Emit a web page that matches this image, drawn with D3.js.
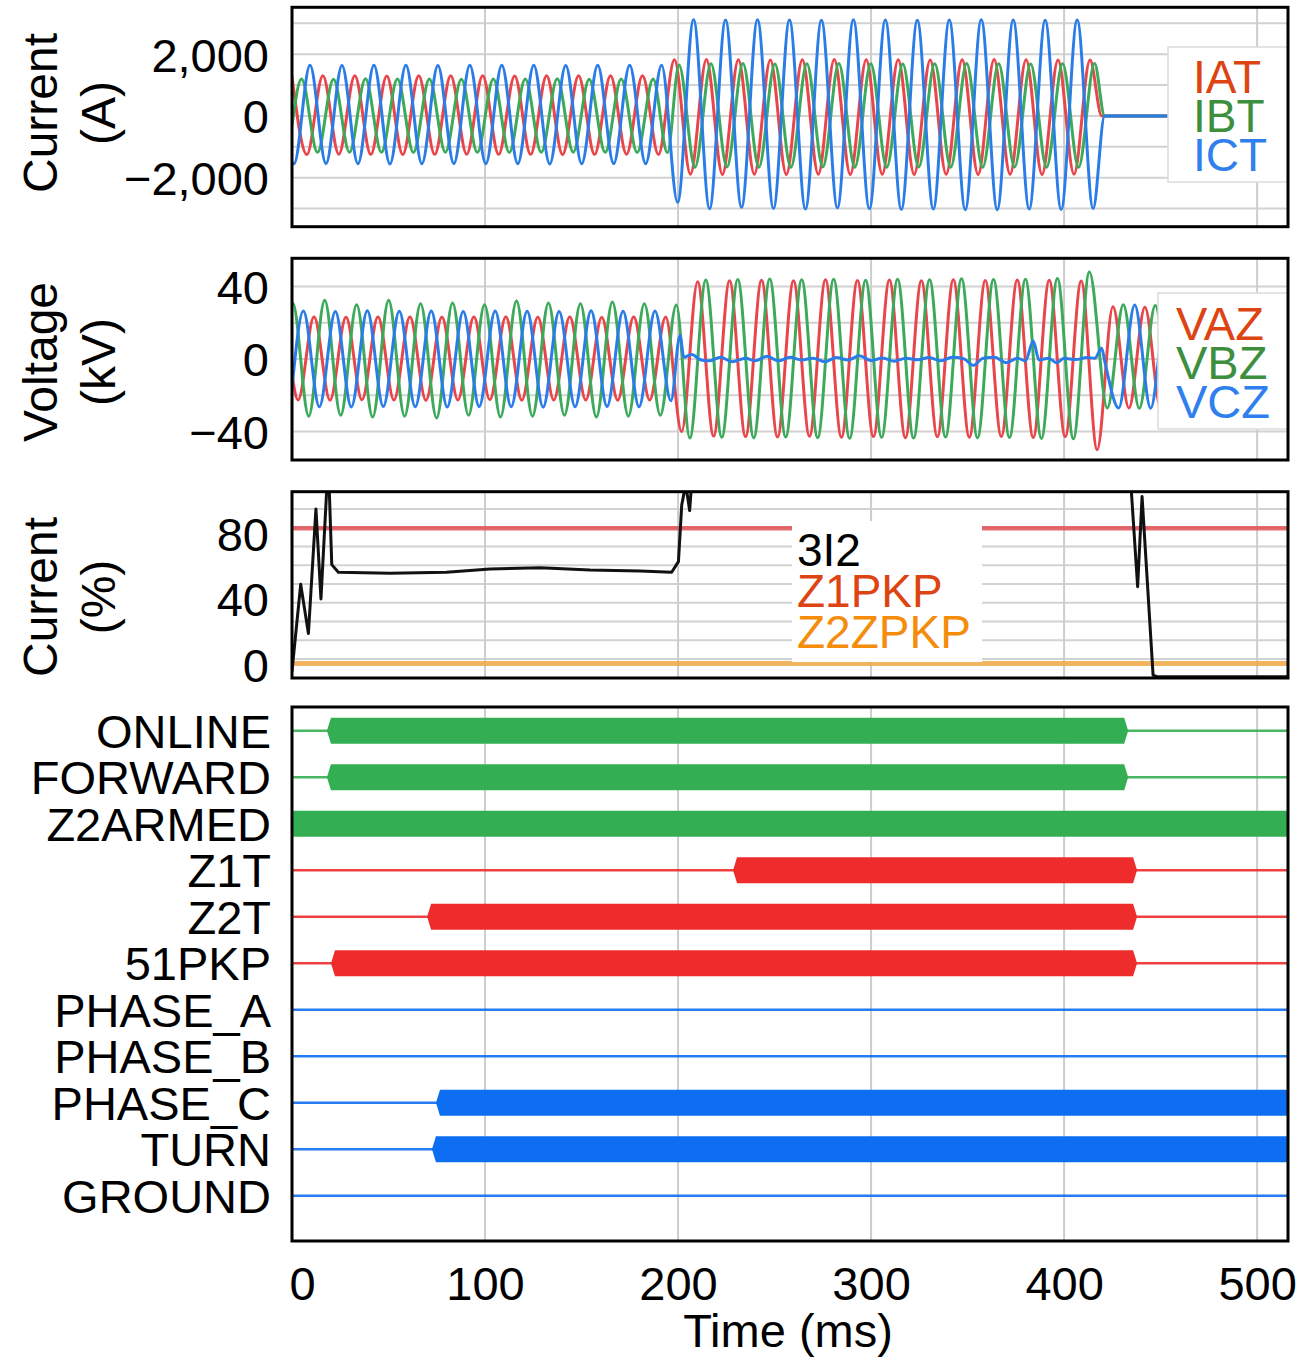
<!DOCTYPE html>
<html>
<head>
<meta charset="utf-8">
<script src="https://cdn.jsdelivr.net/npm/d3@7"></script>
<style>
  body { margin: 0; background: #ffffff; }
  svg { display: block; }
  text { font-family: "Liberation Sans", Arial, Helvetica, sans-serif; fill: #000; }
</style>
</head>
<body>
<svg id="chart" width="1309" height="1359"></svg>
<script>
// ---------------------------------------------------------------
// Event record: phase currents, phase voltages, negative-sequence
// current and relay word bits against time (ms).
// Waveforms are stored as their successive peaks/troughs; one
// half-cycle of the recorded signal separates consecutive entries.
// ---------------------------------------------------------------
const HALF_CYCLE = 8.28;           // ms between a peak and the next trough
const timeTicks = [0, 100, 200, 300, 400, 500];
const timeGrid = [100, 200, 300, 400, 500];

// ---- Currents (A) ----
const currentTicks = [-2000, 0, 2000];
const currentGrid = [-3000, -2000, -1000, 0, 1000, 2000, 3000];

const iatPre = [-1250, 1300, -1245, 1305, -1250, 1295, -1255, 1300, -1250, 1305, -1245, 1300,
                -1250, 1295, -1250, 1300, -1255, 1305, -1250, 1300, -1245, 1300, -1250];
const iatFault = [1820, -1890, 1825, -1895, 1820, -1890, 1815, -1900, 1820, -1890, 1825, -1895,
                  1820, -1890, 1820, -1895, 1815, -1890, 1820, -1900, 1825, -1890, 1820, -1895,
                  1815, -1890, 1810];
const ibtPre = [1200, -1180, 1190, -1175, 1205, -1180, 1195, -1185, 1200, -1175, 1190, -1180,
                1200, -1185, 1195, -1180, 1205, -1175, 1190, -1180, 1200, -1185, 1195];
const ibtFault = [1650, -1660, 1690, -1655, 1695, -1660, 1685, -1665, 1690, -1650, 1695, -1660,
                  1690, -1665, 1685, -1655, 1690, -1660, 1695, -1665, 1690, -1655, 1685, -1660,
                  1690, -1665, 1700];
const ictPre = [-1550, 1640, -1545, 1635, -1550, 1645, -1555, 1640, -1550, 1635, -1545, 1640,
                -1550, 1645, -1550, 1640, -1555, 1635, -1550, 1640, -1545, 1645, -1550, 1640];
const ictFault = [-2800, 3120, -3010, 3110, -2960, 3120, -3000, 3110, -3020, 3100, -2980, 3120,
                  -3010, 3110, -3030, 3100, -3020, 3110, -3040, 3120, -3040, 3110, -3020, 3100,
                  -3030, 3110, -3000];

const IAT = { points: [[0, 1270], [419.5, 0], [516, 0]],
              segments: [{ t0: 7.7, v: iatPre.concat(iatFault) }] };
const IBT = { points: [[0, -300], [194.5, -1190], [421, 0], [516, 0]],
              segments: [{ t0: 4.94, v: ibtPre }, { t0: 200.5, v: ibtFault }] };
const ICT = { points: [[0, -1520], [421, 0], [516, 0]],
              segments: [{ t0: 1.05, v: ictPre.concat(ictFault) }] };

// ---- Voltages (kV) ----
const voltageTicks = [-40, 0, 40];
const voltageGrid = [-40, -20, 0, 20, 40];

const vazPre = [-22.6, 23.3, -22.7, 23.2, -22.5, 23.4, -22.6, 23.3, -22.8, 23.2, -22.6, 23.3,
                -22.5, 23.4, -22.7, 23.2, -22.6, 23.3, -22.6, 23.1, -22.7, 23.3, -22.6, 23.2];
const vazFault = [-40, 42.6, -42.5, 43.2, -42.8, 43.5, -43, 43.2, -42.6, 43.8, -43.2, 43.4,
                  -42.8, 43.6, -43.4, 43.2, -42.9, 43.8, -43.1, 43.3, -42.7, 43.6, -43.3, 43.5,
                  -42.8, 43.1, -50];
const vazPost = [28.9, -27, 28.6, -27.3, 28.8, -27.1, 28.5, -27.2, 28.7, -27, 28.6, -27.1];

const vbzPre = [31, -31.5, 32.5, -31, 30, -32, 32.5, -31.5, 30.5, -32.5, 31, -31, 30, -32,
                32, -31.5, 31, -31, 30.5, -32, 31.5, -31.5, 30.5, -31, 29.8];
const vbzFault = [-43.6, 43.6, -43.2, 43.9, -43.5, 44.2, -43, 43.8, -43.4, 44, -43.7, 43.5,
                  -43.2, 44.1, -43.6, 43.8, -43, 44.3, -43.5, 43.9, -43.3, 44, -43.8, 44.5,
                  -44, 48];
const vbzPost = [-27, 30, -27.2, 29.6, -27.1, 29.8, -27, 29.5, -27.2, 29.7, -27.1, 29.6];

const vczPre = [26.5, -26.3, 26.2, -26.4, 26.6, -26.2, 26.4, -26.3, 26.5, -26.4, 26.3, -26.2,
                26.5, -26.3, 26.4, -26.5, 26.2, -26.3, 26.6, -26.2, 26.4, -26.3, 26.5, -23];
const vczFaultRipple = [[201, 13], [203, 1], [207, 2.5], [212, -0.5], [216, -1], [222, 1],
                        [228, -1.5], [235, 0.5], [240, -1], [246, 1.5], [252, -1], [258, 1],
                        [264, -0.5], [270, 0.5], [276, -1.5], [282, 0.8], [288, -0.5], [294, 1.8],
                        [300, -0.8], [306, 0.6], [312, -1.2], [318, 0.5], [324, -0.4], [330, 0.8],
                        [336, -1], [342, 1], [348, 0.2], [353, -3.5], [358, 0.5], [364, 1],
                        [370, -2], [376, 0.5], [380, -1], [384, 10], [387, -0.5], [392, 0.5],
                        [396, -2], [400, 0.4], [406, -0.3], [412, 0.8], [416, 0.5], [419.5, 6],
                        [421, -1]];
const vczPost = [-27, 29.8, -27.1, 29.5, -27, 29.7, -27.2, 29.6, -27, 29.8, -27.1];

const VAZ = { points: [[0, -8.5]],
              segments: [{ t0: 3.14, v: vazPre }, { t0: 201.86, v: vazFault }, { t0: 425.3, v: vazPost }] };
const VBZ = { points: [[0, 30]],
              segments: [{ t0: 0.38, v: vbzPre }, { t0: 206.1, v: vbzFault }, { t0: 422.4, v: vbzPost }] };
const VCZ = { points: [[0, -16]].concat(vczFaultRipple),
              segments: [{ t0: 5.9, v: vczPre }, { t0: 428.3, v: vczPost }] };

// ---- Negative-sequence current (%) and pickup levels ----
const percentTicks = [0, 40, 80];
const percentGrid = [3.4, 14.9, 26.3, 37.8, 49.2, 60.6, 72.1, 83.5, 95.0];
const i2Trace = [[0, -4], [4.5, 49], [8.5, 19], [12.4, 95], [15, 40], [18.8, 125], [20.6, 61],
                 [24, 56.3], [50.8, 55.7], [80, 56.4], [102.6, 58.3], [128.5, 59.1], [154.4, 57.7],
                 [180.3, 57.1], [196.7, 56.3], [200.2, 62.8], [201.9, 97.4], [204, 110], [206, 94],
                 [207.5, 118], [430, 118], [434.5, 112], [438.1, 47.5], [440.4, 102.5],
                 [446.1, -6.4], [448, -7.4], [516, -7.4]];
const z1pkpTrace = [[0, 83.2], [516, 83.2]];
const z2zpkpTrace = [[0, 0.7], [516, 0.7]];

// ---- Relay word bits: asserted intervals (ms) ----
const bitNames = ["ONLINE", "FORWARD", "Z2ARMED", "Z1T", "Z2T", "51PKP",
                  "PHASE_A", "PHASE_B", "PHASE_C", "TURN", "GROUND"];
const bitGroups = ["green", "green", "green", "red", "red", "red",
                   "blue", "blue", "blue", "blue", "blue"];
const bitOn = [[[18.1, 433.2]], [[18.1, 433.2]], [[0, 516]], [[228.5, 437.8]], [[70, 437.8]],
               [[20.2, 437.8]], [], [], [[74.6, 516]], [[72.5, 516]], []];

// ---------------------------------------------------------------
const FONT_SIZE = 47;
const svg = d3.select("#chart");
const x = d3.scaleLinear().domain([0, 516]).range([292, 1288]);
const X0 = x.range()[0], X1 = x.range()[1];

const waveColors = { red: "#e8464b", green: "#3caa5a", blue: "#2a7de8" };
const textColors = { red: "#dd4412", green: "#3d8f3e", blue: "#2f7fee", orange: "#f48c0c" };
const bitColors = { green: "#34ae52", red: "#ee2c2c", blue: "#0d6ef2" };

function expand(ch) {
  const pts = ch.points.slice();
  ch.segments.forEach(s => s.v.forEach((v, i) => pts.push([s.t0 + i * HALF_CYCLE, v])));
  return pts.sort((a, b) => a[0] - b[0]);
}

let clipCount = 0;
function addClip(top, bottom) {
  const id = "clip" + (clipCount++);
  svg.append("clipPath").attr("id", id)
    .append("rect").attr("x", X0).attr("y", top).attr("width", X1 - X0).attr("height", bottom - top);
  return "url(#" + id + ")";
}

function verticalGrid(g, top, bottom) {
  g.selectAll("line.vg").data(timeGrid).join("line")
    .attr("class", "vg")
    .attr("x1", d => x(d)).attr("x2", d => x(d))
    .attr("y1", top).attr("y2", bottom)
    .attr("stroke", "#cdcdcd").attr("stroke-width", 2);
}

function horizontalGrid(g, y, values) {
  g.selectAll("line.hg").data(values).join("line")
    .attr("class", "hg")
    .attr("x1", X0).attr("x2", X1)
    .attr("y1", d => y(d)).attr("y2", d => y(d))
    .attr("stroke", "#d2d2d2").attr("stroke-width", 2);
}

function border(top, bottom) {
  svg.append("rect")
    .attr("x", X0).attr("y", top).attr("width", X1 - X0).attr("height", bottom - top)
    .attr("fill", "none").attr("stroke", "#000").attr("stroke-width", 3);
}

function yAxis(y, ticks, fmt) {
  const ax = d3.axisLeft(y).tickValues(ticks).tickSize(0).tickPadding(23).tickFormat(fmt);
  const g = svg.append("g").attr("transform", `translate(${X0},0)`).call(ax);
  g.select(".domain").remove();
  g.selectAll("text").attr("font-size", FONT_SIZE).attr("dy", "0.36em")
    .style("font-family", '"Liberation Sans", Arial, sans-serif').attr("fill", "#000");
}

function axisTitle(lines, cy) {
  const xs = [57, 115];
  lines.forEach((t, i) => {
    svg.append("text")
      .attr("transform", `translate(${xs[i]},${cy}) rotate(-90)`)
      .attr("text-anchor", "middle").attr("font-size", 48).text(t);
  });
}

// Stacked legend: one text block, one coloured line per series
function legend(box, items) {
  const g = svg.append("g");
  g.append("rect").attr("x", box.x).attr("y", box.y).attr("width", box.w).attr("height", box.h)
    .attr("fill", "#fff").attr("stroke", box.stroke || "none").attr("stroke-width", 1.5);
  const t = g.append("text").attr("font-size", box.fs);
  items.forEach((it, i) => {
    t.append("tspan").attr("x", box.tx).attr("y", box.by + i * box.step)
      .style("fill", it.color).text(it.label);
  });
}

const minusFmt = f => d => f(d).replace("-", "\u2212");

function analogPanel(cfg) {
  const y = d3.scaleLinear().domain(cfg.domain).range([cfg.bottom, cfg.top]);
  const g = svg.append("g");
  horizontalGrid(g, y, cfg.grid);
  verticalGrid(g, cfg.top, cfg.bottom);
  const clip = addClip(cfg.top, cfg.bottom);
  const traces = g.append("g").attr("clip-path", clip);
  cfg.series.forEach(s => {
    const line = d3.line().x(d => x(d[0])).y(d => y(d[1])).curve(s.curve || d3.curveMonotoneX);
    traces.append("path").datum(s.data)
      .attr("d", line).attr("fill", "none")
      .attr("stroke", s.color).attr("stroke-width", s.width || 3)
      .attr("stroke-opacity", s.opacity || 1)
      .attr("stroke-linejoin", "round").attr("stroke-linecap", "round");
  });
  if (cfg.legend) legend(cfg.legend.box, cfg.legend.items);
  border(cfg.top, cfg.bottom);
  yAxis(y, cfg.ticks, cfg.fmt);
  axisTitle(cfg.title, cfg.titleY);
  return y;
}

// ---- Panel 1: phase currents ----
analogPanel({
  top: 7.3, bottom: 226.7, domain: [-3590, 3520], grid: currentGrid, ticks: currentTicks,
  fmt: minusFmt(d3.format(",")), title: ["Current", "(A)"], titleY: 113,
  series: [
    { data: expand(IAT), color: waveColors.red },
    { data: expand(IBT), color: waveColors.green },
    { data: expand(ICT), color: waveColors.blue }
  ],
  legend: {
    box: { x: 1168, y: 47, w: 120, h: 135, tx: 1193, by: 92.7, step: 39, fs: 46, stroke: "#dcdcdc" },
    items: [{ label: "IAT", color: textColors.red }, { label: "IBT", color: textColors.green },
            { label: "ICT", color: textColors.blue }]
  }
});

// ---- Panel 2: phase voltages ----
analogPanel({
  top: 258.3, bottom: 460, domain: [-55.7, 55.6], grid: voltageGrid, ticks: voltageTicks,
  fmt: minusFmt(d3.format("d")), title: ["Voltage", "(kV)"], titleY: 362,
  series: [
    { data: expand(VAZ), color: waveColors.red },
    { data: expand(VBZ), color: waveColors.green },
    { data: expand(VCZ), color: waveColors.blue }
  ],
  legend: {
    box: { x: 1158, y: 293, w: 130, h: 136, tx: 1176, by: 340, step: 39, fs: 47, stroke: "#dcdcdc" },
    items: [{ label: "VAZ", color: textColors.red }, { label: "VBZ", color: textColors.green },
            { label: "VCZ", color: textColors.blue }]
  }
});

// ---- Panel 3: negative-sequence current ----
analogPanel({
  top: 491.7, bottom: 678, domain: [-8.2, 105.5], grid: percentGrid, ticks: percentTicks,
  fmt: d3.format("d"), title: ["Current", "(%)"], titleY: 597,
  series: [
    { data: z1pkpTrace, color: "#e0474c", width: 4.5, opacity: 0.8, curve: d3.curveLinear },
    { data: z2zpkpTrace, color: "#efa844", width: 5, opacity: 0.85, curve: d3.curveLinear },
    { data: i2Trace, color: "#111111", width: 3, curve: d3.curveLinear }
  ],
  legend: {
    box: { x: 792, y: 521, w: 190, h: 141, tx: 797, by: 566, step: 41, fs: 46 },
    items: [{ label: "3I2", color: "#000" }, { label: "Z1PKP", color: textColors.red },
            { label: "Z2ZPKP", color: textColors.orange }]
  }
});

// ---- Panel 4: relay word bits ----
const dTop = 707, dBottom = 1241;
const row = d3.scalePoint().domain(bitNames).range([730.7, 1195.7]);
const BAR_H = 26, NOTCH = 4;
const dg = svg.append("g");
verticalGrid(dg, dTop, dBottom);
const dclip = addClip(dTop, dBottom);
const bits = dg.append("g").attr("clip-path", dclip);
// asserted interval drawn as a thick band with small pointed ends at the transitions
function bandPath(d, yc) {
  const a = x(d[0]), b = x(d[1]), h = BAR_H / 2;
  const na = d[0] > 0 ? NOTCH : 0, nb = d[1] < 516 ? NOTCH : 0;
  return `M${a},${yc}L${a + na},${yc - h}H${b - nb}L${b},${yc}L${b - nb},${yc + h}H${a + na}Z`;
}
bitNames.forEach((name, i) => {
  const c = bitColors[bitGroups[i]];
  const yc = row(name);
  bits.append("line").attr("x1", X0).attr("x2", X1).attr("y1", yc).attr("y2", yc)
    .attr("stroke", c).attr("stroke-width", 2.6).attr("stroke-opacity", 0.9);
  bits.selectAll(null).data(bitOn[i]).join("path")
    .attr("d", d => bandPath(d, yc))
    .attr("fill", c);
});
border(dTop, dBottom);
// Row names as one right-aligned text block, one line per bit
svg.append("text").attr("text-anchor", "end").attr("font-size", FONT_SIZE)
  .selectAll("tspan").data(bitNames).join("tspan")
  .attr("x", 271).attr("y", d => row(d) + 0.36 * FONT_SIZE).text(d => d);

// ---- Time axis ----
const xAxis = d3.axisBottom(x).tickValues(timeTicks).tickSize(0).tickPadding(25.6).tickFormat(d3.format("d"));
const xg = svg.append("g").attr("transform", `translate(0,${dBottom})`).call(xAxis);
xg.select(".domain").remove();
xg.selectAll("text").attr("font-size", FONT_SIZE)
  .style("font-family", '"Liberation Sans", Arial, sans-serif').attr("fill", "#000");
xg.selectAll("text").filter(d => d === 0).attr("text-anchor", "start").attr("x", -3);
svg.append("text").attr("x", 788).attr("y", 1347).attr("text-anchor", "middle")
  .attr("font-size", FONT_SIZE).text("Time (ms)");
</script>
</body>
</html>
